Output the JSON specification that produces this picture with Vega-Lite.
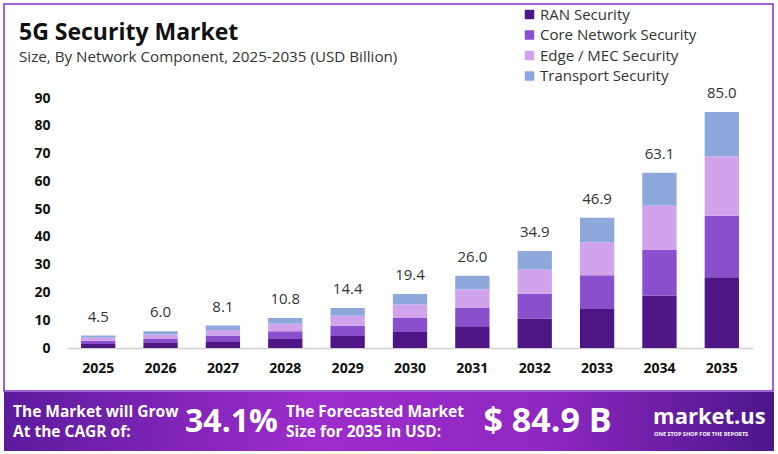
{
  "$schema": "https://vega.github.io/schema/vega-lite/v6.json",
  "background": "white",
  "padding": {"left": 3, "top": 3, "right": 5, "bottom": 5},
  "spacing": 0,
  "config": {
    "font": "Open Sans",
    "view": {"stroke": null},
    "concat": {"spacing": 0}
  },
  "vconcat": [
    {
      "width": 769,
      "height": 387,
      "view": {"stroke": "#7e30c8", "strokeWidth": 1.5},
      "title": {
        "text": "5G Security Market",
        "subtitle": "Size, By Network Component, 2025-2035 (USD Billion)",
        "anchor": "start",
        "frame": "group",
        "offset": -61,
        "dx": 15,
        "font": "Open Sans",
        "fontSize": 23,
        "fontWeight": "bold",
        "color": "#111111",
        "subtitleFont": "Open Sans",
        "subtitleFontSize": 15.2,
        "subtitleColor": "#333333",
        "subtitlePadding": 5
      },
      "data": {
        "values": [
          {"year": "2025", "component": "RAN Security", "value": 1.4},
          {"year": "2025", "component": "Core Network Security", "value": 1.2},
          {"year": "2025", "component": "Edge / MEC Security", "value": 1.1},
          {"year": "2025", "component": "Transport Security", "value": 0.8},
          {"year": "2026", "component": "RAN Security", "value": 1.8},
          {"year": "2026", "component": "Core Network Security", "value": 1.6},
          {"year": "2026", "component": "Edge / MEC Security", "value": 1.5},
          {"year": "2026", "component": "Transport Security", "value": 1.1},
          {"year": "2027", "component": "RAN Security", "value": 2.4},
          {"year": "2027", "component": "Core Network Security", "value": 2.1},
          {"year": "2027", "component": "Edge / MEC Security", "value": 2.0},
          {"year": "2027", "component": "Transport Security", "value": 1.6},
          {"year": "2028", "component": "RAN Security", "value": 3.2},
          {"year": "2028", "component": "Core Network Security", "value": 2.8},
          {"year": "2028", "component": "Edge / MEC Security", "value": 2.7},
          {"year": "2028", "component": "Transport Security", "value": 2.1},
          {"year": "2029", "component": "RAN Security", "value": 4.3},
          {"year": "2029", "component": "Core Network Security", "value": 3.7},
          {"year": "2029", "component": "Edge / MEC Security", "value": 3.6},
          {"year": "2029", "component": "Transport Security", "value": 2.8},
          {"year": "2030", "component": "RAN Security", "value": 5.8},
          {"year": "2030", "component": "Core Network Security", "value": 5.0},
          {"year": "2030", "component": "Edge / MEC Security", "value": 4.9},
          {"year": "2030", "component": "Transport Security", "value": 3.7},
          {"year": "2031", "component": "RAN Security", "value": 7.8},
          {"year": "2031", "component": "Core Network Security", "value": 6.8},
          {"year": "2031", "component": "Edge / MEC Security", "value": 6.5},
          {"year": "2031", "component": "Transport Security", "value": 4.9},
          {"year": "2032", "component": "RAN Security", "value": 10.5},
          {"year": "2032", "component": "Core Network Security", "value": 9.0},
          {"year": "2032", "component": "Edge / MEC Security", "value": 8.7},
          {"year": "2032", "component": "Transport Security", "value": 6.7},
          {"year": "2033", "component": "RAN Security", "value": 14.0},
          {"year": "2033", "component": "Core Network Security", "value": 12.2},
          {"year": "2033", "component": "Edge / MEC Security", "value": 11.9},
          {"year": "2033", "component": "Transport Security", "value": 8.8},
          {"year": "2034", "component": "RAN Security", "value": 18.9},
          {"year": "2034", "component": "Core Network Security", "value": 16.4},
          {"year": "2034", "component": "Edge / MEC Security", "value": 15.9},
          {"year": "2034", "component": "Transport Security", "value": 11.9},
          {"year": "2035", "component": "RAN Security", "value": 25.5},
          {"year": "2035", "component": "Core Network Security", "value": 22.1},
          {"year": "2035", "component": "Edge / MEC Security", "value": 21.3},
          {"year": "2035", "component": "Transport Security", "value": 16.1}
        ]
      },
      "encoding": {
        "x": {
          "field": "year",
          "type": "ordinal",
          "scale": {"range": [63, 749], "paddingInner": 0.45, "paddingOuter": 0.225},
          "axis": {
            "title": null,
            "orient": "bottom",
            "offset": -43,
            "labelAngle": 0,
            "ticks": false,
            "tickSize": 0,
            "labelPadding": 13,
            "domainColor": "#d0d0d0",
            "domainWidth": 1.5,
            "labelFont": "Open Sans",
            "labelFontSize": 14,
            "labelFontWeight": "bold",
            "labelColor": "#111111"
          }
        }
      },
      "layer": [
        {
          "transform": [
            {"calculate": "indexof(['RAN Security', 'Core Network Security', 'Edge / MEC Security', 'Transport Security'], datum.component)", "as": "rank"}
          ],
          "mark": {"type": "bar"},
          "encoding": {
            "y": {
              "field": "value",
              "type": "quantitative",
              "stack": "zero",
              "scale": {"domain": [0, 90], "range": [344, 94]},
              "axis": {
                "title": null,
                "values": [0, 10, 20, 30, 40, 50, 60, 70, 80, 90],
                "grid": false,
                "domain": false,
                "ticks": false,
                "tickSize": 0,
                "labelPadding": -46,
                "labelFont": "Open Sans",
                "labelFontSize": 14,
                "labelFontWeight": "bold",
                "labelColor": "#111111"
              }
            },
            "color": {
              "field": "component",
              "type": "nominal",
              "scale": {
                "domain": ["RAN Security", "Core Network Security", "Edge / MEC Security", "Transport Security"],
                "range": ["#4d1684", "#8a4fcc", "#d1a3ea", "#8ea8dc"]
              },
              "legend": {
                "title": null,
                "orient": "none",
                "legendX": 518,
                "legendY": 3,
                "symbolType": "square",
                "symbolSize": 90,
                "symbolStrokeWidth": 0,
                "labelFont": "Open Sans",
                "labelFontSize": 15,
                "labelColor": "#333333",
                "labelOffset": 3,
                "rowPadding": 4.5
              }
            },
            "order": {"field": "rank", "type": "quantitative", "sort": "ascending"}
          }
        },
        {
          "mark": {"type": "text", "dy": -19, "fontSize": 15, "color": "#333333", "font": "Open Sans"},
          "encoding": {
            "y": {"aggregate": "sum", "field": "value", "type": "quantitative"},
            "text": {"aggregate": "sum", "field": "value", "type": "quantitative", "format": ".1f"}
          }
        }
      ]
    },
    {
      "width": 770,
      "height": 59,
      "layer": [
        {
          "data": {"values": [{"item": "banner"}]},
          "mark": {
            "type": "rect",
            "color": {
              "gradient": "linear",
              "x1": 0, "y1": 0, "x2": 1, "y2": 0,
              "stops": [
                {"offset": 0, "color": "#5b1b9c"},
                {"offset": 0.4, "color": "#9d2ccc"},
                {"offset": 0.7, "color": "#8f27c2"},
                {"offset": 1, "color": "#4c178a"}
              ]
            }
          },
          "encoding": {}
        },
        {
          "data": {"values": [{"item": "cagr_label", "label": "The Market will Grow\nAt the CAGR of:"}]},
          "mark": {
            "type": "text",
            "align": "left",
            "dx": -77,
            "dy": -10,
            "lineBreak": "\n",
            "lineHeight": 20,
            "font": "Open Sans",
            "fontSize": 15.5,
            "fontWeight": "bold",
            "color": "white"
          },
          "encoding": {
            "x": {
              "field": "item",
              "type": "nominal",
              "scale": {
                "type": "point",
                "domain": ["cagr_label", "cagr", "forecast_label", "forecast", "brand"],
                "padding": 0.575
              },
              "axis": null
            },
            "text": {"field": "label"}
          }
        },
        {
          "data": {"values": [{"item": "forecast_label", "label": "The Forecasted Market\nSize for 2035 in USD:"}]},
          "mark": {
            "type": "text",
            "align": "left",
            "dx": -103,
            "dy": -10,
            "lineBreak": "\n",
            "lineHeight": 20,
            "font": "Open Sans",
            "fontSize": 15.5,
            "fontWeight": "bold",
            "color": "white"
          },
          "encoding": {
            "x": {"field": "item", "type": "nominal", "axis": null},
            "text": {"field": "label"}
          }
        },
        {
          "data": {"values": [{"item": "cagr", "label": "34.1%"}]},
          "mark": {
            "type": "text",
            "align": "center",
            "dx": -8,
            "font": "Open Sans",
            "fontSize": 32,
            "fontWeight": "bold",
            "color": "white"
          },
          "encoding": {
            "x": {"field": "item", "type": "nominal", "axis": null},
            "text": {"field": "label"}
          }
        },
        {
          "data": {"values": [{"item": "forecast", "label": "$ 84.9 B"}]},
          "mark": {
            "type": "text",
            "align": "center",
            "dx": 9,
            "font": "Open Sans",
            "fontSize": 34,
            "fontWeight": "bold",
            "color": "white"
          },
          "encoding": {
            "x": {"field": "item", "type": "nominal", "axis": null},
            "text": {"field": "label"}
          }
        },
        {
          "data": {"values": [{"item": "brand", "label": "market.us"}]},
          "mark": {
            "type": "text",
            "align": "left",
            "dx": -35,
            "dy": -5,
            "font": "Open Sans",
            "fontSize": 22,
            "fontWeight": "bold",
            "color": "white"
          },
          "encoding": {
            "x": {"field": "item", "type": "nominal", "axis": null},
            "text": {"field": "label"}
          }
        },
        {
          "data": {"values": [{"item": "brand", "label": "ONE STOP SHOP FOR THE REPORTS"}]},
          "mark": {
            "type": "text",
            "align": "left",
            "dx": -34,
            "dy": 12,
            "font": "Open Sans",
            "fontSize": 5.5,
            "fontWeight": "bold",
            "color": "white"
          },
          "encoding": {
            "x": {"field": "item", "type": "nominal", "axis": null},
            "text": {"field": "label"}
          }
        }
      ]
    }
  ]
}
